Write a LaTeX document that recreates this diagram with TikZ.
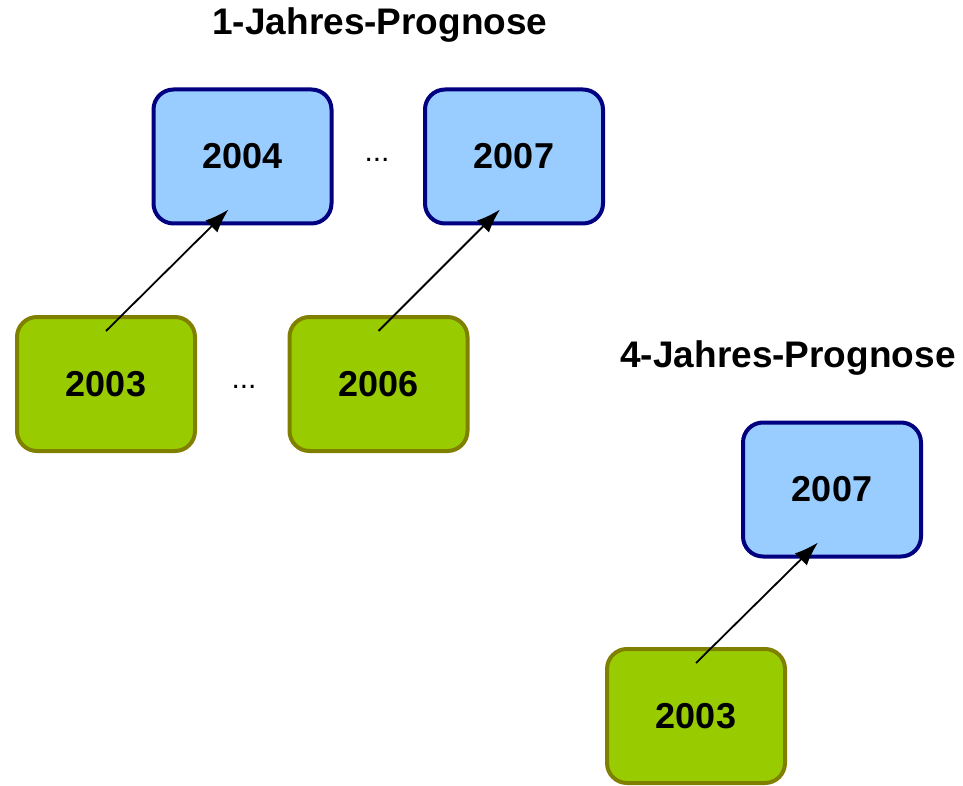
\documentclass[tikz,border=0pt]{standalone}
\usepackage{fontspec}
\setmainfont{Liberation Sans}
\usetikzlibrary{arrows.meta}
\definecolor{bfill}{HTML}{99CCFF}
\definecolor{bline}{HTML}{000080}
\definecolor{gfill}{HTML}{99CC00}
\definecolor{gline}{HTML}{808000}
\begin{document}
\begin{tikzpicture}[x=1pt,y=-1pt,
  yearbox/.style={rounded corners=20pt,line width=4pt,minimum width=178pt,minimum height=134pt,
    inner sep=0pt,outer sep=0pt,font=\fontsize{36}{40}\selectfont\bfseries},
  bluebox/.style={yearbox,draw=bline,fill=bfill},
  greenbox/.style={yearbox,draw=gline,fill=gfill},
  titletext/.style={font=\fontsize{37}{40}\selectfont\bfseries,inner sep=0pt},
  dotstext/.style={font=\fontsize{30}{34}\selectfont,inner sep=0pt,anchor=base},
  conn/.style={line width=1.8pt,-{Latex[length=24pt,width=17pt]}}]
\useasboundingbox (0,0) rectangle (963,786);
\node[titletext] (t1) at (380,25) {1-Jahres-Prognose};
\node[titletext] (t2) at (788,358) {4-Jahres-Prognose};
\node[bluebox] (b1) at (242.5,156.5) {2004};
\node[bluebox] (b2) at (514,156.5) {2007};
\node[greenbox] (g1) at (106,384) {2003};
\node[greenbox] (g2) at (378.5,384) {2006};
\node[bluebox] (b3) at (832,489.5) {2007};
\node[greenbox] (g3) at (696,716) {2003};
\node[dotstext] (d1) at (377,162) {...};
\node[dotstext] (d2) at (244,388) {...};
\draw[conn] ([yshift=-14pt]g1.north) -- ([xshift=-14pt,yshift=14pt]b1.south);
\draw[conn] ([yshift=-14pt]g2.north) -- ([xshift=-14pt,yshift=14pt]b2.south);
\draw[conn] ([yshift=-14pt]g3.north) -- ([xshift=-14pt,yshift=14pt]b3.south);
\end{tikzpicture}
\end{document}
